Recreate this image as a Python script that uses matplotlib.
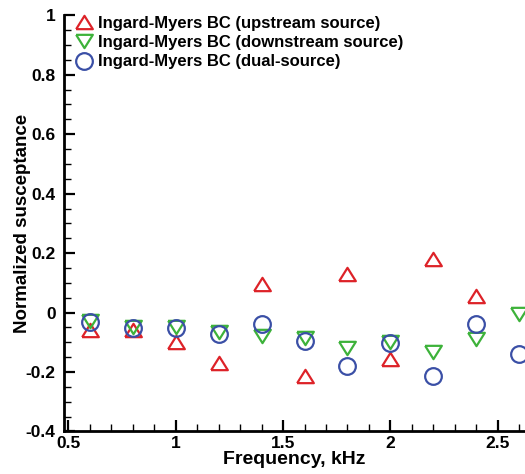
import numpy as np
import matplotlib
matplotlib.use("Agg")
import matplotlib.pyplot as plt
from matplotlib.ticker import MultipleLocator

plt.rcParams['font.family'] = ['Liberation Sans', 'DejaVu Sans']
plt.rcParams['font.weight'] = 'bold'

freq = [0.6, 0.8, 1.0, 1.2, 1.4, 1.6, 1.8, 2.0, 2.2, 2.4, 2.6]
upstream = [-0.06, -0.06, -0.10, -0.17, 0.095, -0.215, 0.129, -0.156, 0.179, 0.055]
downstream = [-0.029, -0.05, -0.05, -0.065, -0.08, -0.084, -0.118, -0.099, -0.133, -0.088, -0.006]
dual = [-0.032, -0.052, -0.052, -0.073, -0.039, -0.094, -0.181, -0.104, -0.213, -0.04, -0.138]

labels = ['Ingard-Myers BC (upstream source)',
          'Ingard-Myers BC (downstream source)',
          'Ingard-Myers BC (dual-source)']

red = '#dd2228'
green = '#3db23a'
blue = '#3a4fa6'

tri_up = [(-1, -0.8), (1, -0.8), (0, 0.8), (-1, -0.8)]
tri_dn = [(-1, 0.8), (1, 0.8), (0, -0.8), (-1, 0.8)]

fig = plt.figure(figsize=(5.25, 4.74), dpi=100)
ax = fig.add_axes([0.122, 0.0897, 0.878, 0.878])

ax.plot(freq[:len(upstream)], upstream, linestyle='none', marker=tri_up, markersize=12,
        markerfacecolor='none', markeredgecolor=red, markeredgewidth=1.6, label=labels[0])
ax.plot(freq, downstream, linestyle='none', marker=tri_dn, markersize=12,
        markerfacecolor='none', markeredgecolor=green, markeredgewidth=1.6, label=labels[1])
ax.plot(freq, dual, linestyle='none', marker='o', markersize=12,
        markerfacecolor='none', markeredgecolor=blue, markeredgewidth=1.6, label=labels[2])

ax.set_xlim(0.481, 2.626)
ax.set_ylim(-0.4, 1.0)
ax.xaxis.set_minor_locator(MultipleLocator(0.1))
ax.yaxis.set_minor_locator(MultipleLocator(0.05))

ax.spines['top'].set_visible(False)
ax.spines['right'].set_visible(False)
ax.spines['left'].set_linewidth(2)
ax.spines['bottom'].set_linewidth(2)

ax.tick_params(which='major', direction='in', length=8, width=1.6, labelsize=12.5)
ax.tick_params(which='minor', direction='in', length=5, width=1.0)
ax.tick_params(axis='x', which='major', pad=3)
ax.tick_params(axis='y', which='major', pad=6)
ax.tick_params(top=False, right=False)

ax.set_xticks([0.5, 1, 1.5, 2, 2.5])
ax.set_xticklabels(['0.5', '1', '1.5', '2', '2.5'], fontweight='bold')
ax.set_yticks([-0.4, -0.2, 0, 0.2, 0.4, 0.6, 0.8, 1])
ax.set_yticklabels(['-0.4', '-0.2', '0', '0.2', '0.4', '0.6', '0.8', '1'], fontweight='bold')

ax.set_xlabel('Frequency, kHz', fontsize=14, fontweight='bold', labelpad=0)
ax.set_ylabel('Normalized susceptance', fontsize=13.5, fontweight='bold')
ax.yaxis.set_label_coords(-0.072, 0.5)

leg = ax.legend(loc='upper left', frameon=False, fontsize=12, handletextpad=0.25,
                handlelength=1.2, borderaxespad=0.2, labelspacing=0.25,
                bbox_to_anchor=(0.0, 1.022))
for t in leg.get_texts():
    t.set_fontweight('bold')

fig.savefig('out.png', dpi=100)
